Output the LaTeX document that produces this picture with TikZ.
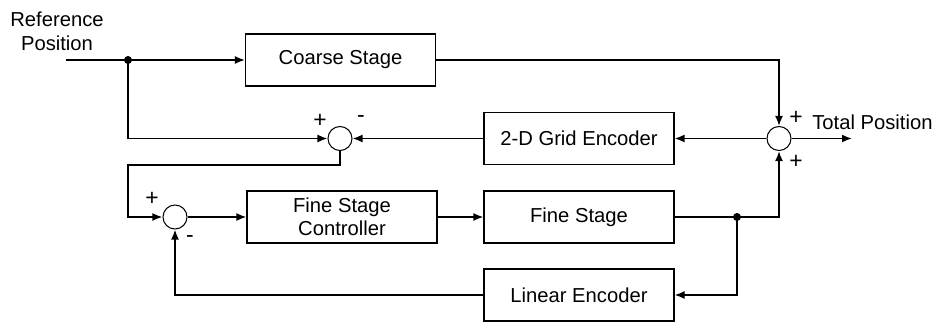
\documentclass[tikz,border=0pt]{standalone}
\usepackage{fontspec}
\setmainfont{Liberation Sans}
\usetikzlibrary{arrows.meta}

\tikzset{
  blk/.style={draw, line width=0.6pt, minimum width=3.8cm, minimum height=1.04cm, align=center, font=\fontsize{11.5}{13.4}\selectfont},
  sum/.style={draw, circle, line width=0.6pt, minimum size=0.48cm, inner sep=0pt},
  sig/.style={line width=1pt, -{Latex[length=2mm,width=1.6mm]}},
  lbl/.style={font=\fontsize{11.5}{13.4}\selectfont, inner sep=0pt},
  sgn/.style={font=\fontsize{13}{14}\selectfont, inner sep=0pt}
}

\begin{document}
\begin{tikzpicture}
  \useasboundingbox (0,0) rectangle (18.72,6.46);

  % blocks
  \node[blk] (coarse) at (6.81,5.26) {Coarse Stage};
  \node[blk] (grid) at (11.58,3.69) {2-D Grid Encoder};
  \node[blk] (fsc) at (6.84,2.12) {Fine Stage\\Controller};
  \node[blk] (fine) at (11.58,2.12) {Fine Stage};
  \node[blk] (lin) at (11.58,0.56) {Linear Encoder};

  % summing points
  \node[sum] (s1) at (6.80,3.69) {};
  \node[sum] (s2) at (3.50,2.12) {};
  \node[sum] (s3) at (15.58,3.69) {};

  \coordinate (in) at (1.32,5.26);
  \coordinate (j1) at (2.56,5.26);
  \coordinate (j2) at (14.74,2.12);
  \coordinate (out) at (17.04,3.69);

  % texts
  \node[lbl, align=center] (ref) at (1.14,5.83) {Reference\\Position};
  \node[lbl, anchor=west] (tot) at (16.24,4.02) {Total Position};
  \node[sgn] at (15.92,4.10) {+};
  \node[sgn] at (15.92,3.22) {+};
  \node[sgn] at (6.40,4.04) {+};
  \node[sgn] at (7.22,4.08) {-};
  \node[sgn] at (3.04,2.48) {+};
  \node[sgn] at (3.80,1.68) {-};

  % connectors
  \draw[sig] (in) -- (coarse);
  \draw[sig] (coarse.east) -| (s3.north);
  \draw[sig] (j1) |- (s1.west);
  \draw[sig] (s3) -- (grid);
  \draw[sig] (grid) -- (s1);
  \draw[sig] (s3) -- (out);
  \draw[sig] (s1.south) |- (2.56,3.16) |- (s2.west);
  \draw[sig] (s2) -- (fsc);
  \draw[sig] (fsc) -- (fine);
  \draw[sig] (fine.east) -| (s3.south);
  \draw[sig] (j2) |- (lin.east);
  \draw[sig] (lin.west) -| (s2.south);

  \fill (j1) circle (0.08);
  \fill (j2) circle (0.08);
\end{tikzpicture}
\end{document}
